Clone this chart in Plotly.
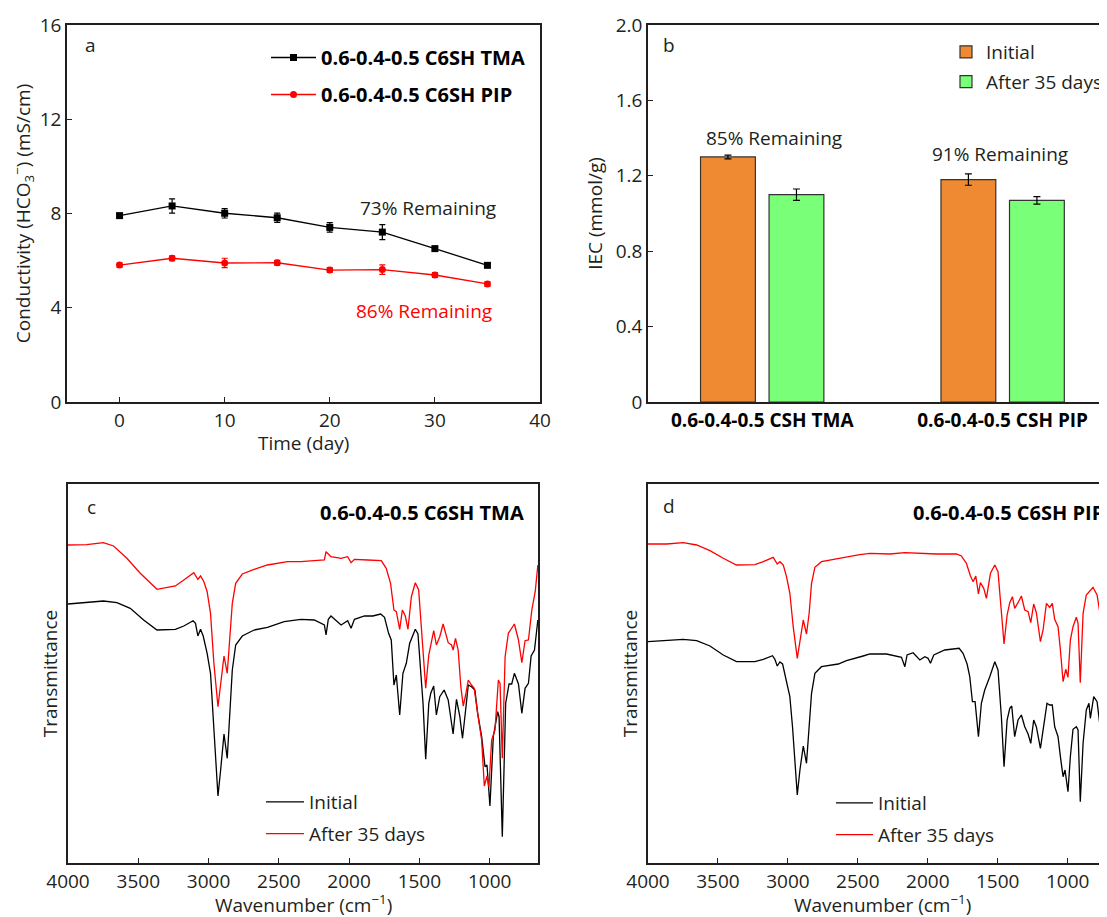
import plotly.graph_objects as go

# ---------------- data ----------------
# Panel a: conductivity vs time
days = [0, 5, 10, 15, 20, 25, 30, 35]
tma_cond = [7.91, 8.32, 8.01, 7.82, 7.41, 7.21, 6.51, 5.80]
tma_err = [0.08, 0.30, 0.20, 0.20, 0.20, 0.32, 0.08, 0.08]
pip_cond = [5.81, 6.10, 5.90, 5.91, 5.60, 5.62, 5.39, 5.01]
pip_err = [0.10, 0.10, 0.20, 0.10, 0.10, 0.20, 0.10, 0.10]

# Panel b: IEC
iec_cats = ["0.6-0.4-0.5 CSH TMA", "0.6-0.4-0.5 CSH PIP"]
iec_initial = [1.30, 1.18]
iec_initial_err = [0.01, 0.03]
iec_after = [1.10, 1.07]
iec_after_err = [0.03, 0.02]

# Panel c: FTIR of C6SH TMA (transmittance, arbitrary units)
c_wn_init = [4000, 3867, 3748, 3652, 3557, 3462, 3367, 3236, 3176, 3110, 3093, 3076, 3057, 3038, 3010,
             2986, 2967, 2948, 2933, 2914, 2890, 2867, 2848, 2831, 2807, 2760, 2676, 2581, 2462,
             2343, 2248, 2176, 2164, 2148, 2129, 2057, 2010, 1986, 1962, 1890, 1831, 1776, 1748, 1719,
             1700, 1681, 1664, 1640, 1617, 1593, 1569, 1529, 1510, 1490, 1474, 1455, 1433, 1419, 1398,
             1379, 1355, 1324, 1295, 1260, 1236, 1212, 1193, 1171, 1152, 1129, 1105, 1086, 1057, 1033,
             1019, 998, 974, 943, 933, 910, 886, 862, 843, 824, 795, 771, 748, 724, 705, 681, 657]
c_init = [259, 260.3, 262, 260.3, 254.7, 243, 233, 233.7, 237, 242.3, 239.7, 227, 233.7, 227, 209.7,
          189.7, 146.3, 93, 67, 93, 129, 104.7, 146.3, 193, 218, 227, 233, 235.7, 241.3,
          243.7, 243, 238, 228, 243.7, 247, 238, 242.3, 234.7, 243.7, 247, 247, 249, 245.7, 229.7,
          223, 178, 188, 148, 189.7, 199.7, 219.7, 233.7, 229, 186.3, 159.7, 103.7, 159.7, 169.7, 177,
          148, 166.3, 173, 163, 129, 163.7, 146.3, 124.7, 153, 178, 176.3, 173, 150.3, 126.3, 96.3,
          98, 57, 126.3, 151.3, 146.3, 26.3, 159.7, 179, 179, 189.7, 179, 149.7, 174.7, 179.7, 207, 213, 243]
c_wn_after = [4000, 3867, 3748, 3676, 3581, 3486, 3367, 3236, 3176, 3105, 3076, 3057, 3033, 3010, 2986,
              2962, 2933, 2910, 2890, 2867, 2848, 2831, 2807, 2760, 2676, 2581, 2438,
              2343, 2248, 2176, 2164, 2129, 2057, 2010, 1986, 1962, 1867, 1771, 1736, 1705, 1681, 1664,
              1640, 1621, 1600, 1581, 1557, 1529, 1505, 1481, 1455, 1433, 1414, 1398, 1379, 1355, 1331,
              1295, 1271, 1260, 1243, 1224, 1205, 1188, 1171, 1152, 1129, 1110, 1086, 1057, 1038, 1019,
              1005, 986, 962, 938, 926, 910, 890, 867, 824, 795, 771, 748, 724, 700, 676, 657]
c_after = [318, 318.3, 320.3, 317, 304.7, 289.7, 273.7, 277, 283, 290.3, 283.7, 287, 281.3, 271.3, 249.7,
           199.7, 156.3, 183, 207, 189.7, 223, 259.7, 279.7, 289, 293.7, 298, 301.3,
           301.3, 302.3, 303, 311.3, 306.3, 304.7, 306.3, 300.3, 303.7, 303, 302.3, 294.7, 279.7, 253, 251.3,
           233.7, 253, 247, 233.7, 266.3, 280.3, 273, 223, 174.7, 208, 223, 232.3, 218, 226.3, 239,
           220.3, 218, 213, 224.7, 213, 176.3, 157, 168, 183, 178, 174.7, 150.3, 123, 77, 87,
           75.7, 123, 133, 183, 179.7, 104.7, 206.3, 229.7, 239, 223, 200.3, 222.3, 223, 253, 271.3, 298]

# Panel d: FTIR of C6SH PIP (transmittance, arbitrary units)
d_wn_init = [4000, 3867, 3748, 3652, 3557, 3462, 3367, 3236, 3176, 3110, 3093, 3076, 3057, 3038, 3010,
             2986, 2967, 2948, 2933, 2914, 2890, 2867, 2848, 2831, 2807, 2760, 2640, 2581, 2462,
             2414, 2295, 2188, 2164, 2148, 2105, 2057, 2021, 1998, 1981, 1957, 1879, 1776, 1748, 1719,
             1700, 1681, 1662, 1638, 1617, 1593, 1557, 1521, 1498, 1474, 1455, 1433, 1414, 1400, 1379,
             1355, 1331, 1307, 1283, 1264, 1243, 1224, 1195, 1176, 1148, 1129, 1110, 1093, 1069, 1052,
             1033, 1019, 998, 981, 962, 938, 926, 910, 890, 867, 848, 838, 814, 790, 767, 743, 721]
d_init = [221.3, 222.3, 223.7, 222.3, 217, 208, 201.3, 201.3, 203.7, 207.3, 203.7, 197, 201, 199, 183,
          166.3, 136.3, 93, 68, 93, 117, 99.7, 136.3, 169.7, 189.7, 196.3, 199, 202.3, 207,
          209, 209, 205.7, 196.3, 208, 210.3, 203, 206.3, 204.7, 199.7, 208, 213, 214.7, 209.7, 199,
          186.3, 161.3, 161.3, 126.3, 159.7, 173, 186.3, 201.3, 193, 146.3, 96.3, 143, 154.7, 157, 126.3,
          143, 148, 136.3, 129, 119.7, 143, 136.3, 114.7, 133, 159.7, 158, 158, 136.3, 126.3, 106.3,
          86.3, 93, 71.3, 106.3, 133.7, 136.3, 133, 61.3, 119.7, 153, 159.7, 144.7, 166.3, 161.3, 134.7, 156.3, 163]
d_wn_after = [4000, 3867, 3748, 3652, 3557, 3462, 3367, 3236, 3176, 3105, 3076, 3057, 3033, 3010, 2986,
              2962, 2933, 2910, 2890, 2867, 2848, 2831, 2807, 2760, 2629, 2486,
              2414, 2271, 2164, 2057, 1938, 1795, 1760, 1724, 1695, 1676, 1657, 1638, 1624, 1600, 1581,
              1552, 1521, 1498, 1474, 1455, 1433, 1414, 1395, 1379, 1355, 1331, 1307, 1283, 1264, 1243,
              1224, 1195, 1176, 1152, 1129, 1110, 1093, 1069, 1052, 1033, 1014, 998, 981, 962, 938,
              926, 910, 890, 867, 819, 790, 767, 743, 721]
d_after = [319, 319, 320.3, 318, 312.3, 304.7, 298, 298.3, 301.3, 305.7, 299, 301.3, 298, 286.3, 269.7,
           236.3, 204.7, 226.3, 243, 229, 249.7, 279.7, 295.7, 301.3, 305, 308.3,
           309.7, 309, 310.3, 309.7, 309, 309, 307, 299.7, 287, 281.3, 287, 269, 280.3, 274.7, 264.7,
           289.7, 298, 291.3, 249.7, 219, 248, 260.3, 266.3, 254.7, 260.3, 267, 253, 251.3, 240.3, 259,
           250.3, 221.3, 233, 259.7, 255.7, 259.7, 243.7, 236.3, 213, 181.3, 193.7, 185.7, 223, 236.3, 245.7,
           239.7, 180.3, 249.7, 268, 275.7, 268, 248, 268, 273]

# ---------------- styling ----------------
FONT = "Open Sans"
TXT = "#231f20"
FS = 19
BFS = 20
OFF = 8                 # page body margin of the html page
W, H = 1107 - OFF, 917 - OFF


def px_x(p):
    return (p - OFF) / W


def px_y(p):
    return 1 - (p - OFF) / H


fig = go.Figure()

# Panel a
fig.add_trace(go.Scatter(
    x=days, y=tma_cond, mode="lines+markers", name="<b>0.6-0.4-0.5 C6SH TMA</b>",
    line=dict(color="black", width=1.3), marker=dict(symbol="square", size=7, color="black"),
    error_y=dict(type="data", array=tma_err, color="black", thickness=1.2, width=3),
    xaxis="x", yaxis="y", legend="legend", legendgroup="a1"))
fig.add_trace(go.Scatter(
    x=days, y=pip_cond, mode="lines+markers", name="<b>0.6-0.4-0.5 C6SH PIP</b>",
    line=dict(color="#ff0000", width=1.3), marker=dict(symbol="circle", size=7, color="#ff0000"),
    error_y=dict(type="data", array=pip_err, color="#ff0000", thickness=1.2, width=3),
    xaxis="x", yaxis="y", legend="legend", legendgroup="a2"))

# Panel b
fig.add_trace(go.Bar(
    x=iec_cats, y=iec_initial, name="Initial", width=0.228, offset=-0.2565,
    marker=dict(color="#f08a32", line=dict(color="#333333", width=1.2)),
    error_y=dict(type="data", array=iec_initial_err, color="black", thickness=1.2, width=3.5),
    xaxis="x2", yaxis="y2", legend="legend2", legendgroup="b1"))
fig.add_trace(go.Bar(
    x=iec_cats, y=iec_after, name="After 35 days", width=0.228, offset=0.0285,
    marker=dict(color="#7aff78", line=dict(color="#333333", width=1.2)),
    error_y=dict(type="data", array=iec_after_err, color="black", thickness=1.2, width=3.5),
    xaxis="x2", yaxis="y2", legend="legend2", legendgroup="b2"))

# Panel c
fig.add_trace(go.Scatter(x=c_wn_init, y=c_init, mode="lines", name="Initial",
                         line=dict(color="black", width=1.3), xaxis="x3", yaxis="y3",
                         legend="legend3", legendgroup="c1"))
fig.add_trace(go.Scatter(x=c_wn_after, y=c_after, mode="lines", name="After 35 days",
                         line=dict(color="#ff0000", width=1.3), xaxis="x3", yaxis="y3",
                         legend="legend3", legendgroup="c2"))

# Panel d
fig.add_trace(go.Scatter(x=d_wn_init, y=d_init, mode="lines", name="Initial",
                         line=dict(color="black", width=1.3), xaxis="x4", yaxis="y4",
                         legend="legend4", legendgroup="d1"))
fig.add_trace(go.Scatter(x=d_wn_after, y=d_after, mode="lines", name="After 35 days",
                         line=dict(color="#ff0000", width=1.3), xaxis="x4", yaxis="y4",
                         legend="legend4", legendgroup="d2"))

axis_common = dict(showline=True, linecolor=TXT, linewidth=1.5, showgrid=False, zeroline=False,
                   ticks="inside", ticklen=5, tickwidth=1.2, tickcolor=TXT, automargin=False,
                   tickfont=dict(family=FONT, size=FS, color=TXT))
title_font = dict(family=FONT, size=FS, color=TXT)

dom_top = [px_y(402), px_y(25)]
dom_bot = [px_y(863), px_y(484)]


def note(text, x, y, color=TXT, size=FS, xanchor="center"):
    return dict(text=text, x=px_x(x), y=px_y(y), xref="paper", yref="paper", showarrow=False,
                xanchor=xanchor, yanchor="middle", font=dict(family=FONT, size=size, color=color))


layout = dict(
    width=W, height=H, margin=dict(l=0, r=0, t=0, b=0, autoexpand=False),
    paper_bgcolor="white", plot_bgcolor="white",
    font=dict(family=FONT, size=FS, color=TXT),
    showlegend=True,
    xaxis=dict(axis_common, domain=[px_x(67), px_x(540)], range=[-5, 40], mirror=True,
               tickvals=[0, 10, 20, 30, 40], anchor="y"),
    yaxis=dict(axis_common, domain=dom_top, range=[0, 16], mirror=True, tickvals=[0, 4, 8, 12, 16],
               anchor="x",
               title=dict(text="Conductivity (HCO<sub>3</sub><sup>−</sup>) (mS/cm)", font=title_font,
                          standoff=8)),
    xaxis2=dict(axis_common, domain=[px_x(648), 1.0], range=[-0.475, 1.434], mirror=True,
                tickcolor="rgba(0,0,0,0)", type="category", anchor="y2",
                tickfont=dict(family=FONT, size=FS, color="black", weight="bold")),
    yaxis2=dict(axis_common, domain=dom_top, range=[0, 2.0], mirror=False,
                tickvals=[0, 0.4, 0.8, 1.2, 1.6, 2.0], ticktext=["0", "0.4", "0.8", "1.2", "1.6", "2.0"],
                anchor="x2",
                title=dict(text="IEC (mmol/g)", font=title_font, standoff=8)),
    xaxis3=dict(axis_common, domain=[px_x(68), px_x(538)], range=[4000, 656], mirror=True,
                tickvals=[4000, 3500, 3000, 2500, 2000, 1500, 1000], anchor="y3"),
    yaxis3=dict(axis_common, domain=dom_bot, range=[0, 379], mirror=True, ticks="", showticklabels=False,
                anchor="x3",
                title=dict(text="Transmittance", font=title_font, standoff=4)),
    xaxis4=dict(axis_common, domain=[px_x(648), 1.0], range=[4000, 719], mirror=True,
                tickvals=[4000, 3500, 3000, 2500, 2000, 1500, 1000], anchor="y4"),
    yaxis4=dict(axis_common, domain=dom_bot, range=[0, 379], mirror=False, ticks="", showticklabels=False,
                anchor="x4",
                title=dict(text="Transmittance", font=title_font, standoff=4)),
    legend=dict(x=px_x(266), y=px_y(38), xanchor="left", yanchor="top", bgcolor="rgba(0,0,0,0)",
                tracegroupgap=8, traceorder="grouped", itemwidth=45,
                font=dict(family=FONT, size=BFS, color="black")),
    legend2=dict(x=px_x(946), y=px_y(33), xanchor="left", yanchor="top", bgcolor="rgba(0,0,0,0)",
                 tracegroupgap=2, traceorder="grouped",
                 font=dict(family=FONT, size=FS, color=TXT)),
    legend3=dict(x=px_x(261), y=px_y(783), xanchor="left", yanchor="top", bgcolor="rgba(0,0,0,0)",
                 tracegroupgap=4, traceorder="grouped", itemwidth=38,
                 font=dict(family=FONT, size=FS, color=TXT)),
    legend4=dict(x=px_x(831), y=px_y(784), xanchor="left", yanchor="top", bgcolor="rgba(0,0,0,0)",
                 tracegroupgap=4, traceorder="grouped", itemwidth=37,
                 font=dict(family=FONT, size=FS, color=TXT)),
    annotations=[
        note("a", 90, 45),
        note("b", 669, 45),
        note("c", 91, 507),
        note("d", 669, 506),
        note("Time (day)", 303, 443),
        note("Wavenumber (cm<sup>−1</sup>)", 303, 904),
        note("Wavenumber (cm<sup>−1</sup>)", 882, 904),
        dict(text="73% Remaining", x=29.3, y=8.23, xref="x", yref="y", showarrow=False,
             font=dict(family=FONT, size=FS, color=TXT)),
        dict(text="86% Remaining", x=29.0, y=3.86, xref="x", yref="y", showarrow=False,
             font=dict(family=FONT, size=FS, color="#ff0000")),
        dict(text="85% Remaining", x=0.048, y=1.40, xref="x2", yref="y2", showarrow=False,
             font=dict(family=FONT, size=FS, color=TXT)),
        dict(text="91% Remaining", x=0.99, y=1.316, xref="x2", yref="y2", showarrow=False,
             font=dict(family=FONT, size=FS, color=TXT)),
        note("<b>0.6-0.4-0.5 C6SH TMA</b>", 526, 512, color="black", size=BFS, xanchor="right"),
        note("<b>0.6-0.4-0.5 C6SH PIP</b>", 1106, 512, color="black", size=BFS, xanchor="right"),
    ],
)
fig.update_layout(**layout)
fig.write_html("out.html")
